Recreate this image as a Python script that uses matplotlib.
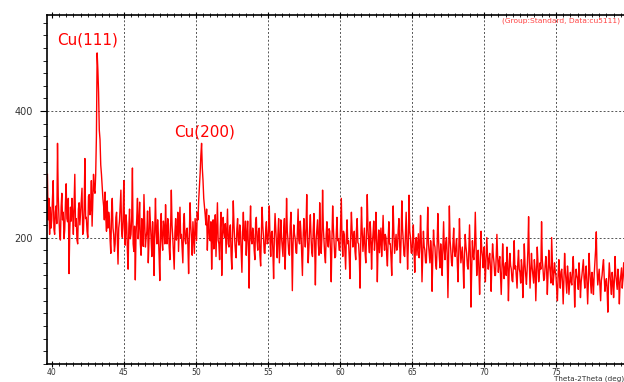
#!/usr/bin/env python3

import numpy as np
import matplotlib
matplotlib.use("Agg")
import matplotlib.pyplot as plt
from matplotlib.ticker import MultipleLocator

# XRD scan, 2theta from 39.70 to 80.00 deg in 0.05 deg steps
scan_start = 39.7
scan_step = 0.05
intensity = [
    300, 228, 262, 205, 248, 215,
    228, 262, 290, 214, 205, 240, 250, 222, 349, 265, 232, 205, 196, 248, 270, 228, 240, 198, 212, 255,  # 40
    285, 230, 225, 262, 143, 210, 248, 226, 262, 238, 205, 252, 300, 218, 230, 196, 190, 245, 255, 220,  # 41
    240, 262, 278, 205, 210, 248, 325, 230, 232, 210, 200, 265, 268, 236, 245, 290, 218, 258, 300, 275,  # 42
    270, 300, 360, 492, 466, 430, 370, 355, 315, 300, 280, 262, 250, 228, 272, 232, 210, 258, 215, 240,  # 43
    230, 196, 175, 240, 262, 215, 205, 178, 190, 232, 240, 200, 158, 215, 226, 250, 275, 210, 200, 228,  # 44
    290, 215, 188, 236, 222, 180, 150, 215, 245, 198, 205, 232, 310, 190, 178, 218, 133, 205, 230, 262,  # 45
    198, 222, 256, 190, 172, 230, 215, 186, 268, 224, 185, 200, 210, 242, 160, 196, 248, 220, 196, 170,  # 46
    225, 198, 140, 215, 262, 208, 190, 228, 205, 172, 132, 210, 238, 195, 180, 226, 215, 190, 252, 210,  # 47
    190, 230, 222, 185, 165, 214, 275, 220, 200, 176, 150, 208, 230, 196, 208, 240, 178, 215, 248, 200,  # 48
    205, 182, 160, 222, 238, 196, 190, 212, 215, 188, 143, 205, 255, 218, 198, 172, 225, 200, 175, 230,  # 49
    212, 195, 240, 228, 259, 280, 302, 330, 349, 310, 290, 262, 249, 236, 220, 245, 180, 215, 235, 198,  # 50
    195, 225, 150, 200, 228, 182, 205, 236, 170, 212, 255, 196, 190, 165, 215, 240, 140, 198, 232, 210,  # 51
    200, 222, 175, 210, 245, 190, 185, 214, 220, 172, 150, 205, 258, 220, 196, 178, 168, 214, 230, 195,  # 52
    188, 220, 210, 176, 145, 208, 240, 198, 195, 226, 172, 205, 226, 185, 120, 210, 250, 196, 190, 215,  # 53
    205, 180, 165, 224, 232, 195, 180, 210, 215, 172, 155, 206, 248, 218, 200, 176, 175, 212, 225, 190,  # 54
    192, 214, 250, 196, 170, 208, 210, 178, 135, 200, 238, 212, 190, 168, 205, 230, 160, 196, 228, 200,  # 55
    185, 170, 212, 230, 150, 196, 262, 210, 195, 176, 172, 218, 240, 192, 116, 190, 220, 205, 198, 176,  # 56
    175, 210, 245, 196, 190, 226, 208, 172, 140, 200, 230, 205, 185, 214, 268, 198, 160, 185, 215, 236,  # 57
    200, 176, 170, 212, 238, 190, 125, 196, 212, 228, 190, 172, 255, 208, 175, 200, 275, 216, 195, 172,  # 58
    160, 205, 225, 190, 185, 214, 210, 176, 130, 198, 250, 214, 190, 168, 170, 206, 232, 195, 198, 180,  # 59
    180, 222, 262, 196, 170, 210, 205, 176, 150, 202, 228, 190, 195, 168, 135, 200, 240, 210, 185, 196,  # 60
    210, 178, 165, 212, 230, 192, 190, 168, 120, 196, 248, 210, 178, 196, 215, 176, 160, 205, 268, 214,  # 61
    192, 176, 225, 205, 150, 190, 205, 226, 180, 196, 240, 202, 130, 188, 212, 176, 195, 215, 170, 198,  # 62
    235, 196, 180, 205, 200, 172, 155, 196, 225, 190, 190, 168, 140, 202, 250, 206, 175, 190, 205, 180,  # 63
    185, 212, 230, 190, 160, 198, 258, 214, 195, 172, 170, 205, 240, 196, 150, 188, 267, 210, 200, 176,  # 64
    175, 200, 220, 176, 145, 190, 200, 172, 190, 206, 168, 185, 235, 196, 130, 172, 210, 186, 180, 160,  # 65
    160, 198, 248, 190, 175, 160, 195, 178, 115, 170, 212, 190, 185, 158, 150, 186, 238, 196, 170, 152,  # 66
    190, 168, 140, 186, 225, 180, 165, 192, 200, 172, 105, 168, 250, 196, 180, 160, 155, 190, 215, 178,  # 67
    170, 186, 198, 160, 130, 175, 230, 190, 160, 172, 185, 158, 120, 170, 205, 186, 175, 155, 150, 178,  # 68
    220, 176, 90, 150, 195, 172, 165, 188, 240, 190, 140, 166, 180, 150, 110, 162, 210, 180, 170, 152,  # 69
    185, 160, 130, 172, 200, 170, 150, 166, 175, 152, 115, 160, 190, 172, 160, 140, 140, 168, 205, 170,  # 70
    145, 162, 170, 140, 110, 150, 190, 160, 135, 152, 160, 140, 185, 162, 100, 146, 175, 156, 150, 132,  # 71
    130, 160, 195, 150, 155, 138, 120, 160, 180, 150, 145, 128, 165, 152, 105, 140, 190, 158, 140, 126,  # 72
    150, 180, 233, 160, 120, 148, 175, 152, 140, 128, 165, 150, 100, 142, 185, 160, 130, 142, 160, 150,  # 73
    225, 165, 150, 132, 135, 156, 170, 150, 110, 142, 180, 156, 145, 128, 200, 160, 125, 140, 160, 146,  # 74
    140, 118, 100, 140, 165, 138, 120, 146, 150, 130, 95, 132, 175, 148, 130, 112, 155, 138, 110, 128,   # 75
    145, 130, 125, 150, 170, 136, 90, 128, 150, 140, 135, 118, 160, 138, 105, 130, 140, 152, 165, 136,   # 76
    120, 142, 155, 128, 95, 130, 175, 146, 130, 112, 145, 132, 110, 140, 160, 180, 209, 150, 125, 138,   # 77
    150, 126, 100, 132, 140, 155, 165, 136, 115, 128, 135, 118, 82, 130, 160, 142, 125, 110, 145, 132,   # 78
    105, 130, 170, 142, 130, 118, 150, 136, 95, 128, 140, 152, 120, 136, 160, 142, 110, 126, 145, 132,   # 79
    130,
]

peak_labels = ["Cu(111)", "Cu(200)"]
peak_label_pos = [(42.5, 512), (50.6, 367)]


def main():
    two_theta = scan_start + scan_step * np.arange(len(intensity))

    fig = plt.figure(figsize=(6.24, 3.82), dpi=100)
    # axes run past the right edge of the figure, like the cropped original
    ax = fig.add_axes([47 / 624, 18 / 382, 581 / 624, 349 / 382])

    ax.plot(two_theta, intensity, color="#ff0000", linewidth=1.0)

    ax.set_xlim(39.67, 80)
    ax.set_ylim(0, 552)

    # grid: dashed grey lines every 5 deg and at 200 / 400 counts
    for gx in range(45, 80, 5):
        ax.axvline(gx, color="#555555", linewidth=0.7, linestyle=(0, (2, 2)), zorder=0)
    for gy in (200, 400):
        ax.axhline(gy, color="#555555", linewidth=0.7, linestyle=(0, (2, 2)), zorder=0)

    for label, (lx, ly) in zip(peak_labels, peak_label_pos):
        ax.text(lx, ly, label, color="#ff0000", fontsize=11, ha="center", va="center")

    # ticks
    ax.set_xticks(range(40, 81, 5))
    ax.xaxis.set_minor_locator(MultipleLocator(0.5))
    ax.set_yticks([200, 400])
    ax.yaxis.set_minor_locator(MultipleLocator(20))
    ax.tick_params(axis="x", which="both", direction="inout", top=True,
                   labelsize=5.5, labelcolor="#333333", pad=0.5)
    ax.tick_params(axis="x", which="major", length=5)
    ax.tick_params(axis="x", which="minor", length=3)
    ax.tick_params(axis="y", which="both", direction="out", labelsize=7,
                   labelcolor="#333333", pad=5)
    ax.tick_params(axis="y", which="major", length=5)
    ax.tick_params(axis="y", which="minor", length=3)

    for side in ("left", "bottom", "top"):
        ax.spines[side].set_linewidth(1.2)
    ax.spines["right"].set_visible(False)

    fig.text(620 / 624, 1 - 21 / 382, "(Group:Standard, Data:cu5111)",
             color="#ff4444", fontsize=5.4, ha="right", va="center")
    fig.text(554 / 624, 1 - 379 / 382, "Theta-2Theta (deg)",
             color="#333333", fontsize=5.2, ha="left", va="center")

    fig.savefig("out.png", dpi=100)


if __name__ == "__main__":
    main()
